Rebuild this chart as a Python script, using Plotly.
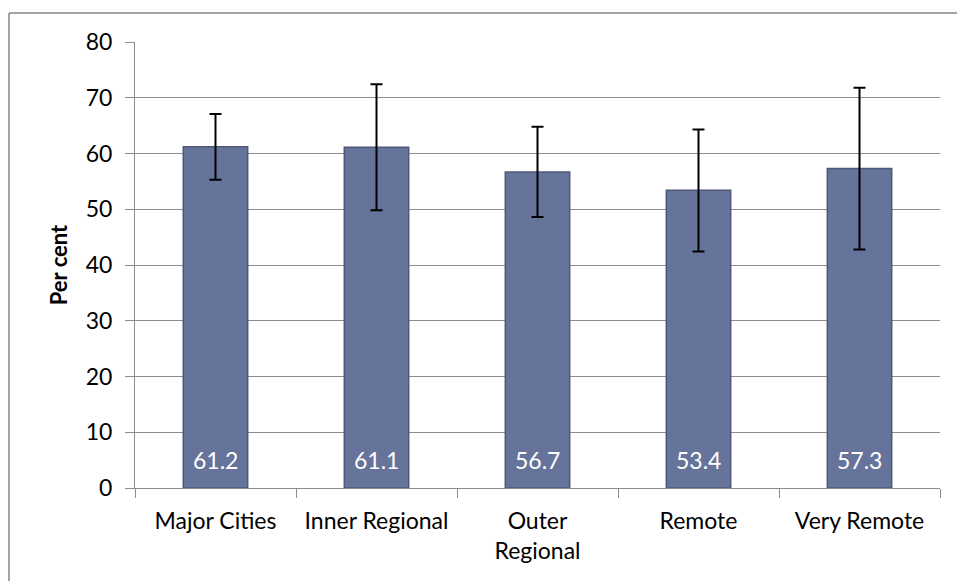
import plotly.graph_objects as go

categories = ["Major Cities", "Inner Regional", "Outer<br>Regional", "Remote", "Very Remote"]
values = [61.2, 61.1, 56.7, 53.4, 57.3]
ci_upper = [67.1, 72.4, 64.8, 64.3, 71.8]
ci_lower = [55.3, 49.8, 48.6, 42.4, 42.8]
y_ticks = [0, 10, 20, 30, 40, 50, 60, 70, 80]

err_plus = [u - v for u, v in zip(ci_upper, values)]
err_minus = [v - l for v, l in zip(values, ci_lower)]

FONT = "Lato, Carlito, 'Open Sans', sans-serif"

W, H = 957, 581
L, T = 135, 42
R, B = W - 940, H - 488
PW, PH = W - L - R, H - T - B

bx0, bx1 = (9 - L) / PW, (957 - L) / PW
by0, by1 = (488 - 581) / PH, (488 - 13) / PH
border = dict(color="#868686", width=1.5)

fig = go.Figure()
fig.add_trace(go.Bar(
    x=categories,
    y=values,
    width=0.4,
    marker=dict(color="#66739A", line=dict(color="#4E597A", width=1.5)),
    error_y=dict(type="data", symmetric=False, array=err_plus, arrayminus=err_minus,
                 color="black", thickness=2, width=6),
    hoverinfo="x+y",
))

for c, v in zip(categories, values):
    fig.add_annotation(x=c, y=0, text=f"{v:.1f}", showarrow=False,
                       yanchor="bottom", yshift=12,
                       font=dict(family=FONT, size=23, color="white"))

fig.update_layout(
    width=W, height=H,
    margin=dict(l=L, r=R, t=T, b=B),
    paper_bgcolor="white", plot_bgcolor="white",
    showlegend=False,
    font=dict(family=FONT, size=23, color="black"),
    shapes=[
        dict(type="line", xref="paper", yref="paper", x0=bx0, x1=bx1, y0=by1, y1=by1,
             line=border, layer="below"),
        dict(type="line", xref="paper", yref="paper", x0=bx0, x1=bx0, y0=by0, y1=by1,
             line=border, layer="below"),
    ],
)
fig.update_yaxes(
    range=[0, 80], tickvals=y_ticks, showgrid=True, gridcolor="#8C8C8C", gridwidth=1,
    showline=True, linecolor="#8C8C8C", linewidth=1,
    ticks="outside", ticklen=9, tickcolor="#8C8C8C", ticklabelstandoff=8,
    title=dict(text="<b>Per cent</b>", font=dict(size=22), standoff=12),
    zeroline=False, fixedrange=True,
)
fig.update_xaxes(
    showline=True, linecolor="#8C8C8C", linewidth=1,
    ticks="outside", tickson="boundaries", ticklen=9, tickcolor="#8C8C8C",
    ticklabelstandoff=12,
    showgrid=False, fixedrange=True,
)

fig.write_html(
    "out.html",
    config={"displayModeBar": False},
    post_script="document.body.style.margin='0';document.body.style.overflow='hidden';",
)
